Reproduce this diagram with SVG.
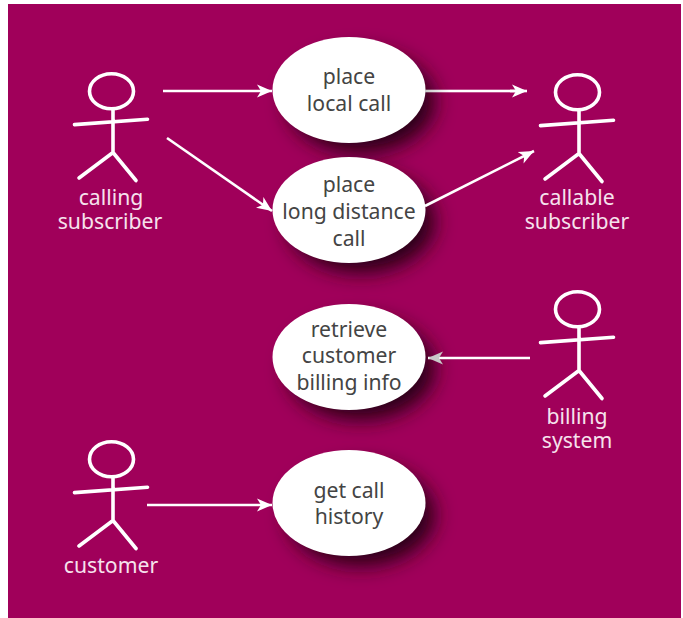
<svg xmlns="http://www.w3.org/2000/svg" width="683" height="618" viewBox="0 0 683 618">
<style>
.usecase{fill:#fff;stroke:none}
.shadow{fill:#2a0018;filter:url(#blur)}
.stick{fill:none;stroke:#fff;stroke-width:3.6;stroke-linecap:round;stroke-linejoin:round}
.conn{fill:none;stroke:#fff;stroke-width:2.6}
text{font-family:"Noto Sans","Open Sans","Liberation Sans",sans-serif;font-size:21.2px;text-anchor:middle}
.dark{fill:#444}
.light{fill:#f6e2ed}
</style>
<defs>
<filter id="blur" x="-40%" y="-40%" width="180%" height="180%"><feGaussianBlur stdDeviation="10"/></filter>
<marker id="arrow" markerUnits="userSpaceOnUse" markerWidth="16" markerHeight="14" refX="15" refY="7" orient="auto"><path d="M0 0.500 L15 7 L0 13.500 L4 7 Z" fill="#fff"/></marker>
<marker id="arrowGray" markerUnits="userSpaceOnUse" markerWidth="16" markerHeight="14" refX="15" refY="7" orient="auto"><path d="M0 0.500 L15 7 L0 13.500 L4 7 Z" fill="#c8c8c8"/></marker>
<linearGradient id="fadeIn" gradientUnits="userSpaceOnUse" x1="425" y1="91" x2="450" y2="91"><stop offset="0" stop-color="#c8c8c8"/><stop offset="1" stop-color="#fff"/></linearGradient>
<g id="figure">
<ellipse cx="111.500" cy="91.300" rx="22" ry="17.500"/>
<path d="M113 110V152.500M74.500 124.600L147.500 119.200M79 178L113 152.500L136 180.500"/>
</g>
</defs>
<rect x="8" y="4" width="673" height="614" fill="#a0005a"/>
<g id="uc1"><ellipse class="shadow" cx="361" cy="102" rx="74" ry="51"/><ellipse class="usecase" cx="349" cy="90" rx="76.500" ry="53"/><text class="dark" x="349" y="84">place</text><text class="dark" x="349" y="111">local call</text></g>
<g id="uc2"><ellipse class="shadow" cx="361" cy="222" rx="74" ry="51"/><ellipse class="usecase" cx="349" cy="210" rx="76.500" ry="53"/><text class="dark" x="349" y="192">place</text><text class="dark" x="349" y="219">long distance</text><text class="dark" x="349" y="246">call</text></g>
<g id="uc3"><ellipse class="shadow" cx="361" cy="369" rx="74" ry="51"/><ellipse class="usecase" cx="349" cy="357" rx="76.500" ry="53"/><text class="dark" x="349" y="337">retrieve</text><text class="dark" x="349" y="363">customer</text><text class="dark" x="349" y="390">billing info</text></g>
<g id="uc4"><ellipse class="shadow" cx="361" cy="515" rx="74" ry="51"/><ellipse class="usecase" cx="349" cy="503" rx="76.500" ry="53"/><text class="dark" x="349" y="498">get call</text><text class="dark" x="349" y="524">history</text></g>
<g id="connectors">
<line class="conn" x1="163" y1="91" x2="272" y2="91" marker-end="url(#arrow)"/>
<line class="conn" x1="167" y1="138" x2="272" y2="211" marker-end="url(#arrow)"/>
<rect x="425" y="89.700" width="90" height="2.600" fill="url(#fadeIn)"/>
<line class="conn" x1="510" y1="91" x2="527" y2="91" marker-end="url(#arrow)"/>
<line class="conn" x1="425" y1="206" x2="534" y2="151" marker-end="url(#arrow)"/>
<line class="conn" x1="530" y1="358" x2="428" y2="358" marker-end="url(#arrowGray)"/>
<line class="conn" x1="147" y1="505" x2="272" y2="505" marker-end="url(#arrow)"/>
</g>
<g id="actor1"><use href="#figure" class="stick"/><text class="light" x="111" y="205">calling</text><text class="light" x="110" y="229">subscriber</text></g>
<g id="actor2"><use href="#figure" class="stick" x="466" y="1"/><text class="light" x="577" y="205">callable</text><text class="light" x="577" y="229">subscriber</text></g>
<g id="actor3"><use href="#figure" class="stick" x="466" y="218"/><text class="light" x="577" y="424">billing</text><text class="light" x="577" y="448">system</text></g>
<g id="actor4"><use href="#figure" class="stick" y="368"/><text class="light" x="111" y="573">customer</text></g>
</svg>
